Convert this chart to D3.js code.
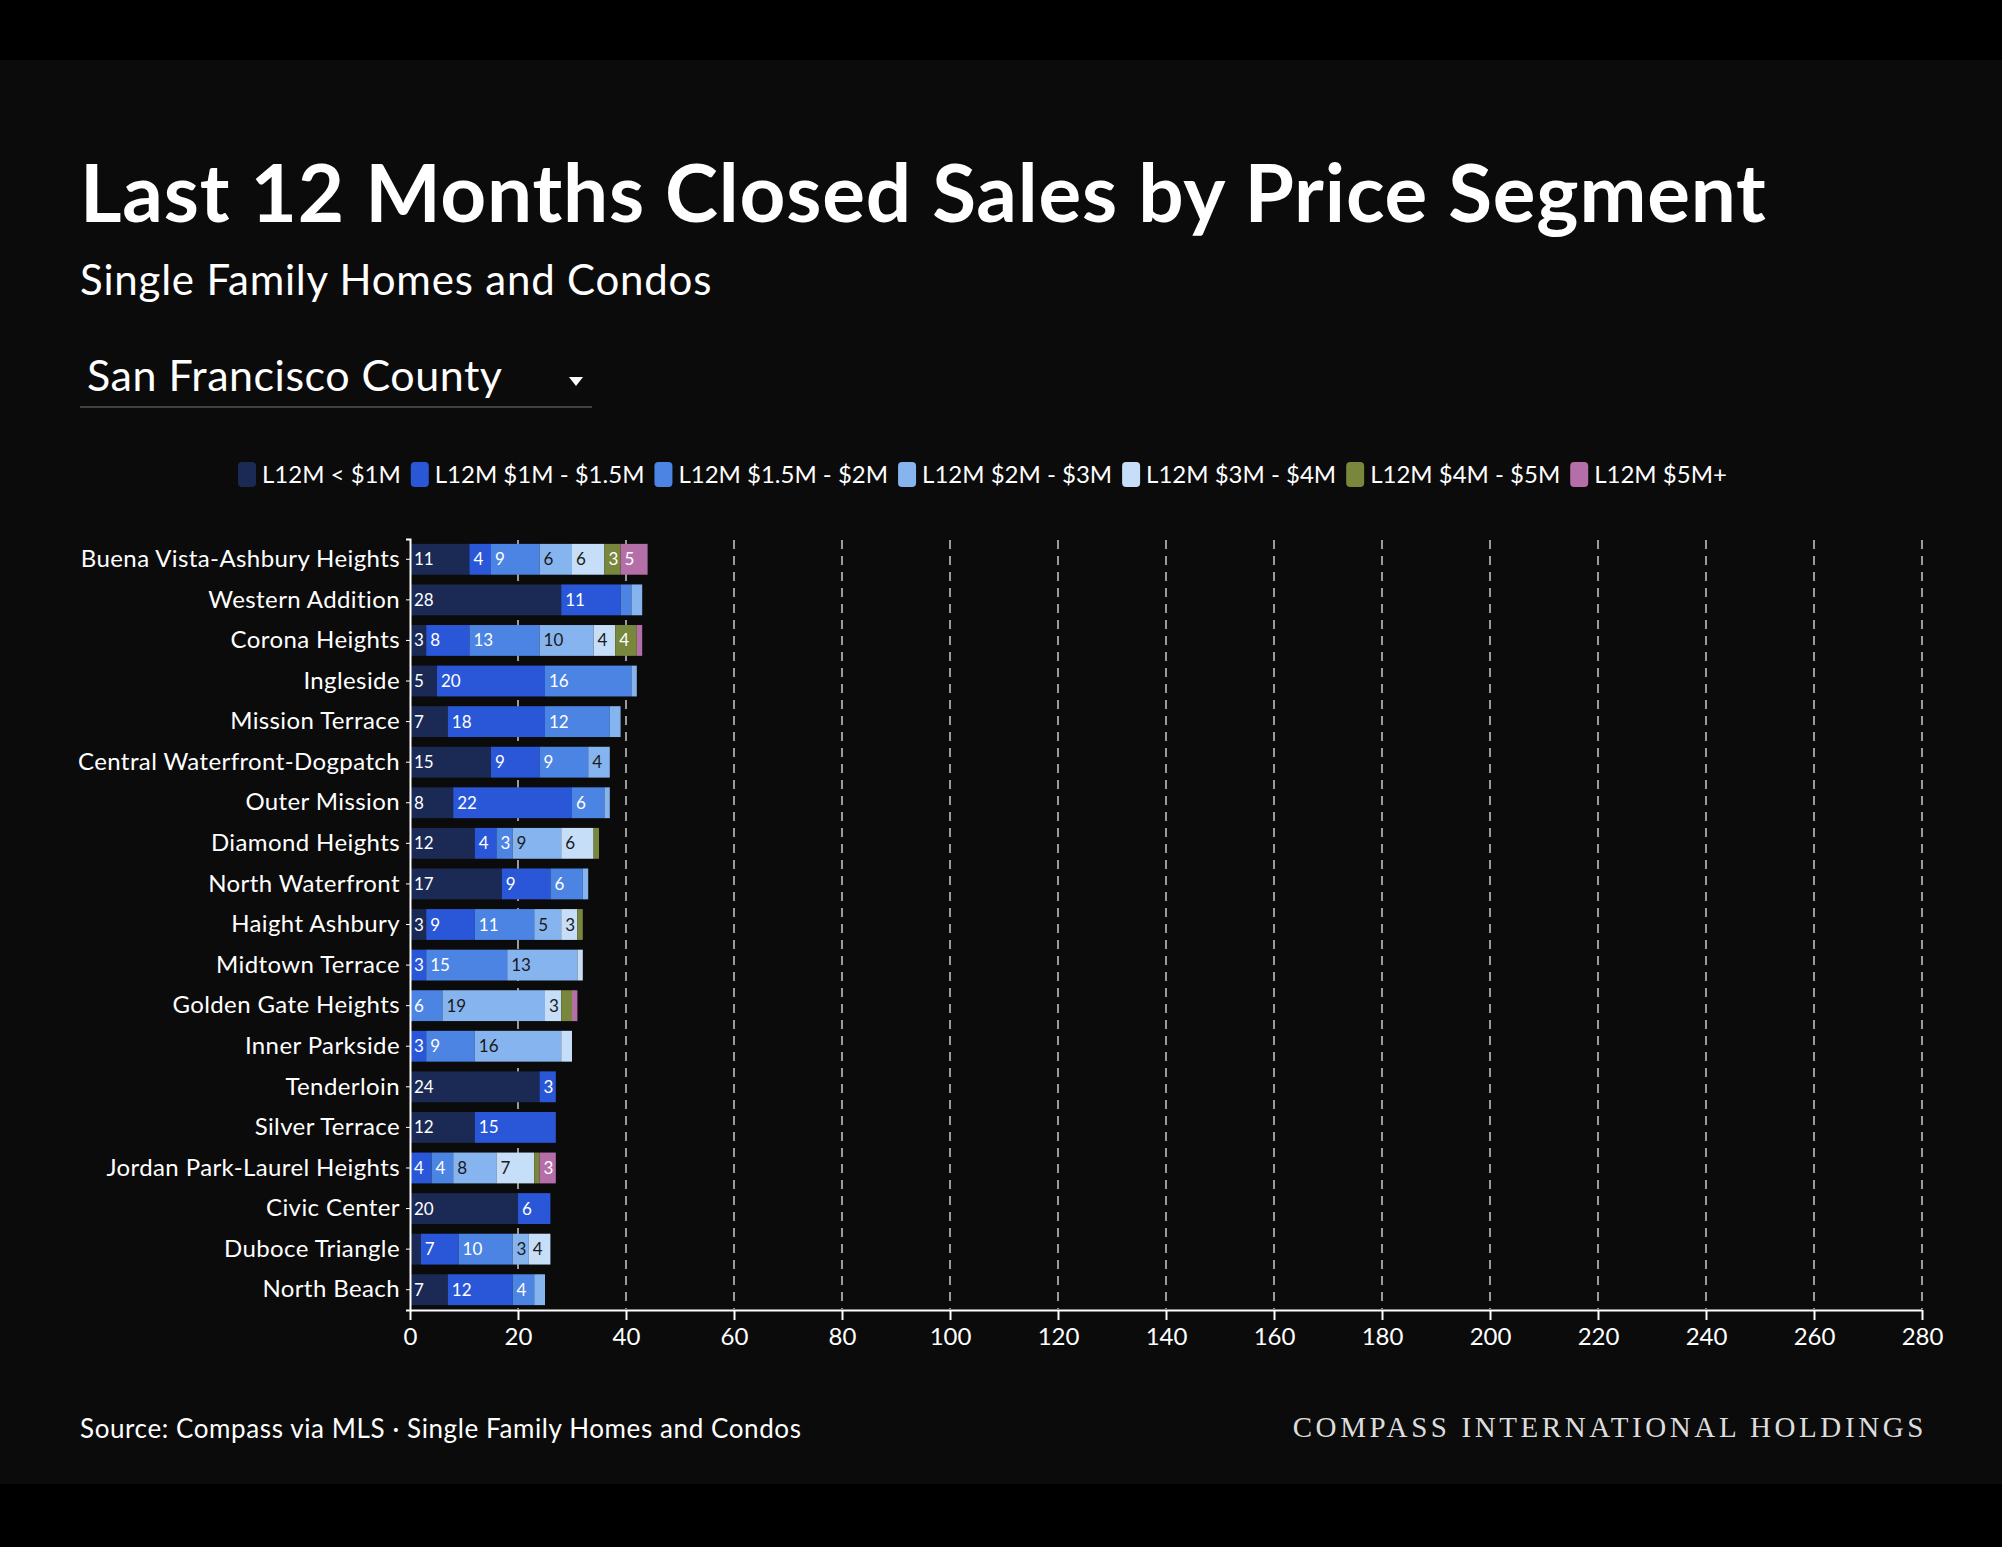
<!DOCTYPE html>
<html>
<head>
<meta charset="utf-8">
<script src="https://d3js.org/d3.v7.min.js"></script>
<style>
  body { margin: 0; background: #000; }
  svg { display: block; font-family: Lato, "Open Sans", sans-serif; }
</style>
</head>
<body>
<script>
  // neighborhoods, top to bottom
  var neighborhoods = ["Buena Vista-Ashbury Heights", "Western Addition", "Corona Heights", "Ingleside",
    "Mission Terrace", "Central Waterfront-Dogpatch", "Outer Mission", "Diamond Heights", "North Waterfront",
    "Haight Ashbury", "Midtown Terrace", "Golden Gate Heights", "Inner Parkside", "Tenderloin",
    "Silver Terrace", "Jordan Park-Laurel Heights", "Civic Center", "Duboce Triangle", "North Beach"];
  var segments = ["L12M < $1M", "L12M $1M - $1.5M", "L12M $1.5M - $2M", "L12M $2M - $3M",
    "L12M $3M - $4M", "L12M $4M - $5M", "L12M $5M+"];
  var colors = ["#1b2a55", "#2a57d8", "#4c84e4", "#86b4ef", "#c6def8", "#78873c", "#b46fa9"];
  var textColors = ["#fff", "#fff", "#fff", "#1a1a1a", "#1a1a1a", "#fff", "#fff"];
  var under1M   = [11, 28, 3, 5, 7, 15, 8, 12, 17, 3, 0, 0, 0, 24, 12, 0, 20, 2, 7];
  var m1to15    = [4, 11, 8, 20, 18, 9, 22, 4, 9, 9, 3, 0, 3, 3, 15, 4, 6, 7, 12];
  var m15to2    = [9, 2, 13, 16, 12, 9, 6, 3, 6, 11, 15, 6, 9, 0, 0, 4, 0, 10, 4];
  var m2to3     = [6, 2, 10, 1, 2, 4, 1, 9, 1, 5, 13, 19, 16, 0, 0, 8, 0, 3, 2];
  var m3to4     = [6, 0, 4, 0, 0, 0, 0, 6, 0, 3, 1, 3, 2, 0, 0, 7, 0, 4, 0];
  var m4to5     = [3, 0, 4, 0, 0, 0, 0, 1, 0, 1, 0, 2, 0, 0, 0, 1, 0, 0, 0];
  var m5plus    = [5, 0, 1, 0, 0, 0, 0, 0, 0, 0, 0, 1, 0, 0, 0, 3, 0, 0, 0];
  var xTicks = d3.range(0, 281, 20);

  var series = [under1M, m1to15, m15to2, m2to3, m3to4, m4to5, m5plus];
  var rows = neighborhoods.map(function(n, i) {
    var r = { name: n };
    segments.forEach(function(s, j) { r[s] = series[j][i]; });
    return r;
  });

  var W = 2002, H = 1547;
  var svg = d3.select("body").append("svg").attr("width", W).attr("height", H);
  svg.append("rect").attr("width", W).attr("height", H).attr("fill", "#000");
  svg.append("rect").attr("y", 60).attr("width", W).attr("height", 1424).attr("fill", "#0b0b0b");

  svg.append("text").attr("x", 80).attr("y", 222).attr("fill", "#fff")
    .attr("font-size", 80).attr("font-weight", 700).attr("letter-spacing", 0.8)
    .text("Last 12 Months Closed Sales by Price Segment");
  svg.append("text").attr("x", 80).attr("y", 295).attr("fill", "#fff")
    .attr("font-size", 42).attr("letter-spacing", 0.8).text("Single Family Homes and Condos");

  // dropdown
  svg.append("text").attr("x", 87).attr("y", 391).attr("fill", "#fff")
    .attr("font-size", 43).attr("letter-spacing", 0.5).text("San Francisco County");
  svg.append("path").attr("d", "M569,377 L583,377 L576,386 Z").attr("fill", "#fff");
  svg.append("line").attr("x1", 80).attr("x2", 592).attr("y1", 407).attr("y2", 407)
    .attr("stroke", "#555").attr("stroke-width", 1.5);

  // legend
  var lx = 238;
  var legend = svg.append("g");
  segments.forEach(function(s, j) {
    legend.append("rect").attr("x", lx).attr("y", 462).attr("width", 18).attr("height", 25)
      .attr("rx", 4).attr("fill", colors[j]);
    var t = legend.append("text").attr("x", lx + 24).attr("y", 483).attr("fill", "#fff")
      .attr("font-size", 24).text(s);
    lx += 24 + t.node().getComputedTextLength() + 10;
  });

  // chart
  var x = d3.scaleLinear().domain([0, 280]).range([410, 1922]);
  var y = d3.scaleBand().domain(neighborhoods).range([539, 1310]).paddingInner(0.24).paddingOuter(0.12);

  var g = svg.append("g");
  g.selectAll(".grid").data(xTicks.slice(1)).enter().append("line")
    .attr("x1", function(d) { return x(d); }).attr("x2", function(d) { return x(d); })
    .attr("y1", 540).attr("y2", 1309)
    .attr("stroke", "#9a9a9a").attr("stroke-width", 2).attr("stroke-dasharray", "9,7");

  var stack = d3.stack().keys(segments)(rows);
  stack.forEach(function(layer, j) {
    var lg = g.append("g");
    lg.selectAll("rect").data(layer).enter().append("rect")
      .attr("x", function(d) { return x(d[0]); })
      .attr("width", function(d) { return x(d[1]) - x(d[0]); })
      .attr("y", function(d) { return y(d.data.name); })
      .attr("height", y.bandwidth())
      .attr("fill", colors[j]);
    lg.selectAll("text").data(layer.filter(function(d) { return d[1] - d[0] >= 3; })).enter().append("text")
      .attr("x", function(d) { return x(d[0]) + 4; })
      .attr("y", function(d) { return y(d.data.name) + y.bandwidth() / 2 + 6; })
      .attr("fill", textColors[j]).attr("font-size", 17)
      .text(function(d) { return d[1] - d[0]; });
  });

  var yAxis = g.append("g").attr("transform", "translate(410,0)")
    .call(d3.axisLeft(y).tickSize(4).tickPadding(6));
  yAxis.select(".domain").attr("stroke", "#fff").attr("stroke-width", 2);
  yAxis.selectAll(".tick line").attr("stroke", "#fff");
  yAxis.selectAll("text").attr("fill", "#fff").attr("font-size", 24).attr("letter-spacing", 0.4)
    .attr("font-family", "Lato, sans-serif");

  var xAxis = g.append("g").attr("transform", "translate(0,1310)")
    .call(d3.axisBottom(x).tickValues(xTicks).tickSize(10).tickSizeOuter(0).tickPadding(8));
  xAxis.select(".domain").attr("stroke", "#fff").attr("stroke-width", 2);
  xAxis.selectAll(".tick line").attr("stroke", "#fff").attr("stroke-width", 2);
  xAxis.selectAll("text").attr("fill", "#fff").attr("font-size", 24).attr("font-family", "Lato, sans-serif");

  // footer
  svg.append("text").attr("x", 80).attr("y", 1438).attr("fill", "#fff").attr("font-size", 26)
    .attr("letter-spacing", 0.6).text("Source: Compass via MLS \u00b7 Single Family Homes and Condos");
  svg.append("text").attr("x", 1927).attr("y", 1437).attr("text-anchor", "end").attr("fill", "#ddd")
    .attr("font-size", 29).attr("letter-spacing", 3.6).attr("font-family", "'Liberation Serif', serif")
    .text("COMPASS INTERNATIONAL HOLDINGS");
</script>
</body>
</html>
